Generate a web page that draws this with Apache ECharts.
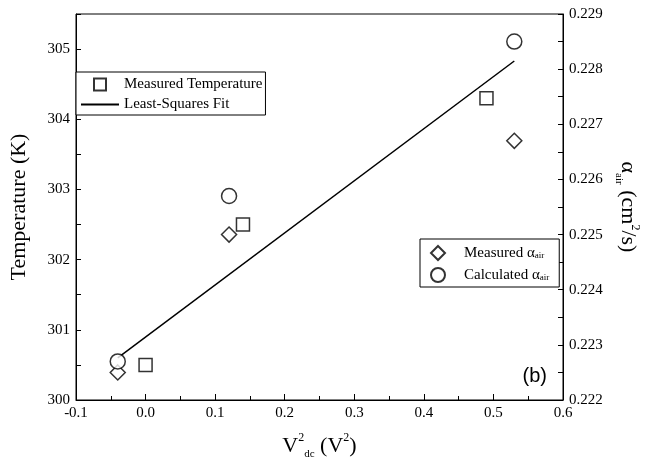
<!DOCTYPE html>
<html>
<head>
<meta charset="utf-8">
<script src="https://cdn.jsdelivr.net/npm/echarts@6/dist/echarts.min.js"></script>
<style>
  html, body { margin: 0; padding: 0; background: #fff; }
  #chart { width: 648px; height: 463px; }
</style>
</head>
<body>
<div id="chart"></div>
<script>
// measured temperature (left axis)
const tempX = [0.0, 0.14, 0.49];
const tempY = [300.5, 302.5, 304.3];
// least-squares fit line
const fitX = [-0.04, 0.53];
const fitY = [300.6, 304.83];
// thermal diffusivity (right axis)
const alphaX = [-0.04, 0.12, 0.53];
const alphaMeasured = [0.2225, 0.2250, 0.2267];
const alphaCalculated = [0.2227, 0.2257, 0.2285];

const serif = "Liberation Serif";
const black = "#000";
const zip = (xs, ys) => xs.map((x, i) => [x, ys[i]]);

const chart = echarts.init(document.getElementById("chart"));

const tickStyle = { inside: true, length: 5, lineStyle: { color: black, width: 1 } };
const lineStyle = { show: true, onZero: false, lineStyle: { color: black, width: 1 } };
const labelStyle = { color: black, fontFamily: serif, fontSize: 15 };

const nameRich = {
  sup: { fontFamily: serif, fontSize: 12, color: black, verticalAlign: "top", lineHeight: 12 },
  sub: { fontFamily: serif, fontSize: 11, color: black, verticalAlign: "bottom", lineHeight: 11 }
};

const legendNames = {
  "Measured alpha": "Measured \u03b1{sub|air}",
  "Calculated alpha": "Calculated \u03b1{sub|air}"
};

// square icon kept 12x12 inside the 38px wide legend slot
const squareIcon = "path://M0,6M13,0L25,0L25,12L13,12ZM38,6";

chart.setOption({
  animation: false,
  backgroundColor: "#fff",
  grid: {
    left: 76, right: 85, top: 14, bottom: 63,
    outerBoundsMode: "none",
    show: true, borderColor: black, borderWidth: 1
  },
  legend: [
    {
      data: [
        { name: "Measured Temperature", icon: squareIcon },
        { name: "Least-Squares Fit" }
      ],
      orient: "vertical", left: 76, top: 72,
      padding: [5, 3, 3, 4], itemWidth: 38, itemHeight: 12, itemGap: 5,
      borderColor: black, borderWidth: 1, backgroundColor: "#fff",
      selectedMode: false,
      textStyle: { color: black, fontFamily: serif, fontSize: 15, lineHeight: 15 }
    },
    {
      data: ["Measured alpha", "Calculated alpha"],
      orient: "vertical", left: 420, top: 239,
      padding: [6, 10, 4, 10], itemWidth: 14, itemHeight: 14, itemGap: 6,
      borderColor: black, borderWidth: 1, backgroundColor: "#fff",
      selectedMode: false,
      formatter: n => legendNames[n],
      textStyle: {
        color: black, fontFamily: serif, fontSize: 15, lineHeight: 15, padding: [0, 0, 0, 14],
        rich: {
          sub: { fontFamily: serif, fontSize: 9, color: black, verticalAlign: "bottom", lineHeight: 9, padding: [6, 0, 0, 0] }
        }
      }
    }
  ],
  xAxis: {
    type: "value", min: -0.1, max: 0.6, interval: 0.1,
    axisLine: lineStyle,
    axisTick: { inside: true, length: 6, lineStyle: { color: black } },
    minorTick: { show: true, splitNumber: 2, length: 4, lineStyle: { color: black } },
    splitLine: { show: false },
    axisLabel: Object.assign({ margin: 6, formatter: v => v.toFixed(1) }, labelStyle),
    name: "V{sup|2}{sub|dc} (V{sup|2})",
    nameLocation: "middle", nameGap: 32,
    nameTextStyle: { color: black, fontFamily: serif, fontSize: 22, lineHeight: 28, rich: nameRich }
  },
  yAxis: [
    {
      type: "value", min: 300, max: 305.5, interval: 0.5,
      axisLine: lineStyle, axisTick: tickStyle,
      splitLine: { show: false },
      axisLabel: Object.assign({
        margin: 6,
        formatter: v => (Math.abs(v - Math.round(v)) < 1e-6 ? String(Math.round(v)) : "")
      }, labelStyle),
      name: "Temperature (K)",
      nameLocation: "middle", nameGap: 46,
      nameTextStyle: { color: black, fontFamily: serif, fontSize: 22 }
    },
    {
      type: "value", position: "right", min: 0.222, max: 0.229, interval: 0.0005,
      axisLine: lineStyle, axisTick: tickStyle,
      splitLine: { show: false },
      axisLabel: Object.assign({
        margin: 6,
        formatter: v => (Math.abs(v * 1000 - Math.round(v * 1000)) < 1e-6 ? v.toFixed(3) : "")
      }, labelStyle),
      name: "\u03b1{sub|air} (cm{sup|2}/s)",
      nameLocation: "middle", nameGap: 50, nameRotate: -90,
      nameTextStyle: { color: black, fontFamily: serif, fontSize: 22, lineHeight: 28, rich: nameRich }
    }
  ],
  graphic: [
    {
      type: "text", right: 648 - 547, top: 366,
      style: { text: "(b)", fill: black, font: "20px Liberation Sans" }
    }
  ],
  series: [
    {
      name: "Least-Squares Fit", type: "line", yAxisIndex: 0,
      data: zip(fitX, fitY), symbol: "none", z: 2,
      lineStyle: { color: black, width: 1.5 },
      itemStyle: { color: black, opacity: 0 }
    },
    {
      name: "Measured Temperature", type: "scatter", yAxisIndex: 0,
      data: zip(tempX, tempY), symbol: "rect", symbolSize: 13, z: 3,
      itemStyle: { color: "#fff", borderColor: black, borderWidth: 1.5 }
    },
    {
      name: "Measured alpha", type: "scatter", yAxisIndex: 1,
      data: zip(alphaX, alphaMeasured), symbol: "diamond", symbolSize: 15, z: 3,
      itemStyle: { color: "#fff", borderColor: black, borderWidth: 1.5 }
    },
    {
      name: "Calculated alpha", type: "scatter", yAxisIndex: 1,
      data: zip(alphaX, alphaCalculated), symbol: "circle", symbolSize: 15, z: 3,
      itemStyle: { color: "#fff", borderColor: black, borderWidth: 1.5 }
    }
  ]
});

window.addEventListener("resize", () => chart.resize());
</script>
</body>
</html>
